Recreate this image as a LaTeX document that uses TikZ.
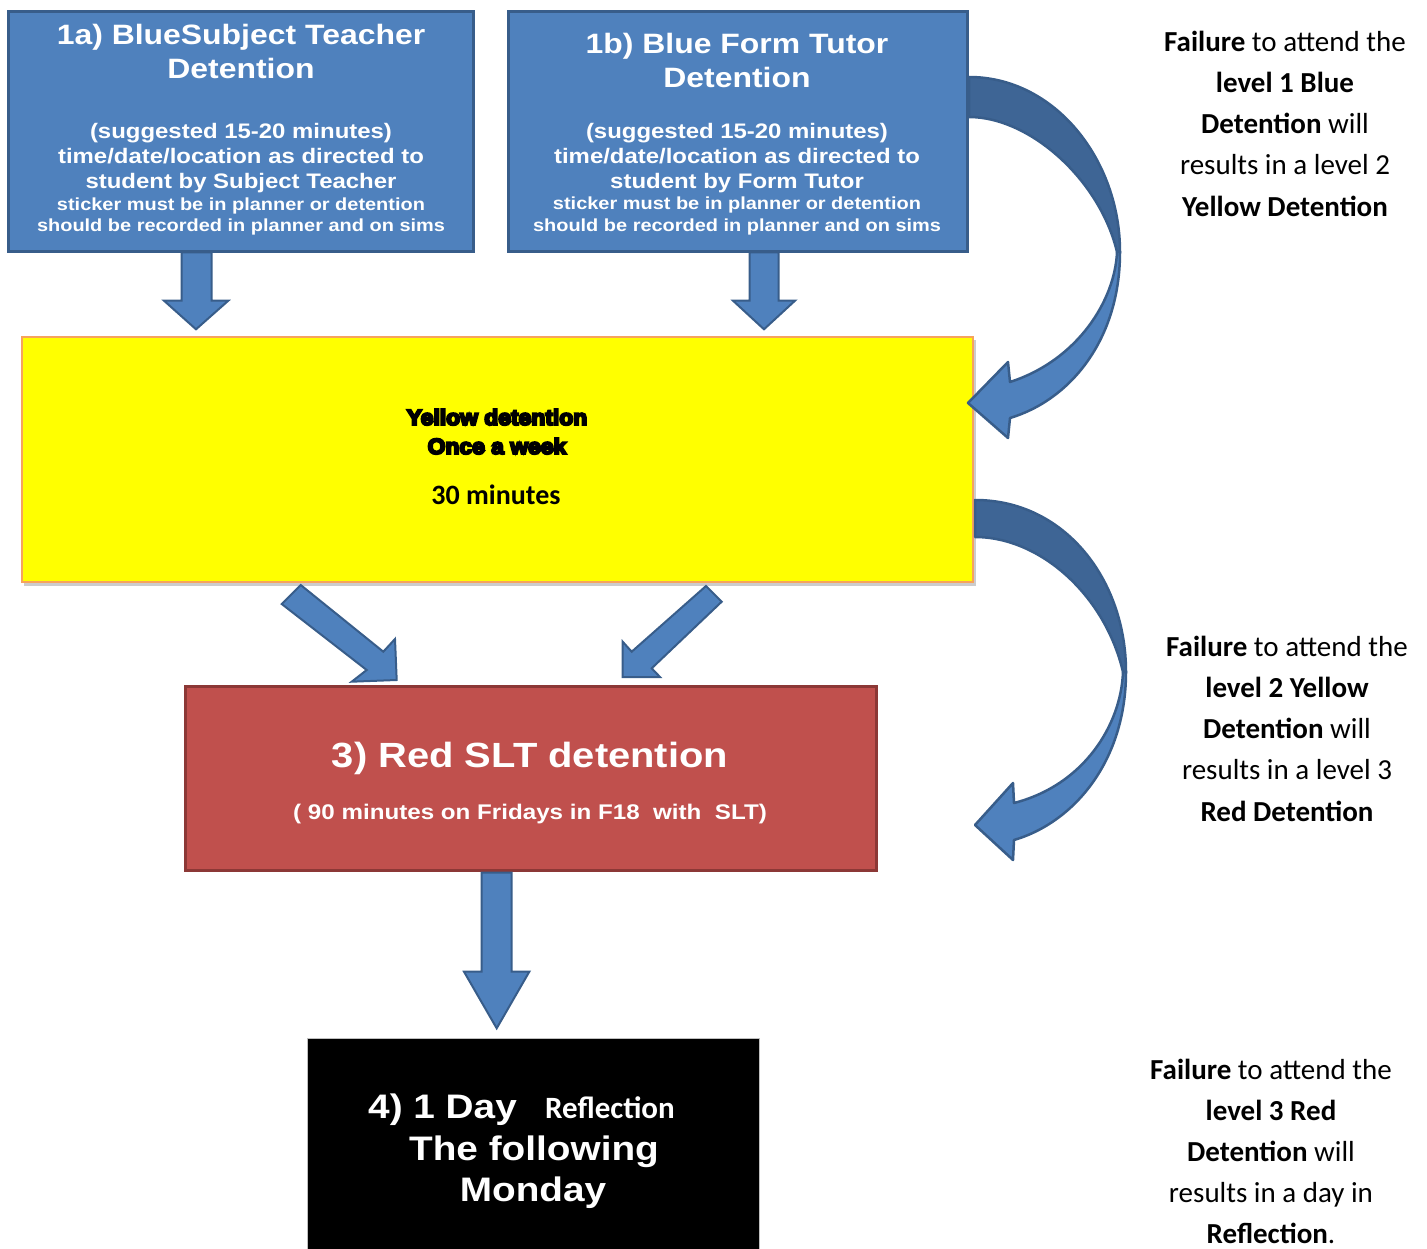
\documentclass[tikz,border=0pt]{standalone}
\usepackage{fontspec}
\usepackage{graphicx}
\setmainfont{Liberation Sans}
\newfontfamily\calib{Carlito}
\newfontfamily\heavy{Liberation Sans Bold}[FakeBold=9]
\newcommand\hsx[1]{\scalebox{1.14}[1]{#1}}
\definecolor{bluefill}{HTML}{4F81BD}
\definecolor{bluebd}{HTML}{385D8A}
\definecolor{bluedark}{HTML}{3E6595}
\definecolor{redfill}{HTML}{C0504D}
\definecolor{redbd}{HTML}{8C3836}
\definecolor{yelbd}{HTML}{F7A35C}
\definecolor{yelfill}{HTML}{FFFF00}
\tikzset{
  boxbase/.style={anchor=north west, inner sep=0pt, outer sep=0pt},
  bluebox/.style={boxbase, draw=bluebd, line width=3pt, fill=bluefill},
  yelbox/.style={boxbase, draw=yelbd, line width=1.5pt, fill=yelfill},
  redbox/.style={boxbase, draw=redbd, line width=3pt, fill=redfill},
  blkbox/.style={boxbase, draw=black!25, line width=1pt, fill=black},
  wtxt/.style={anchor=base, inner sep=0pt, text=white},
  btxt/.style={anchor=base, inner sep=0pt, text=black},
  blockarrow/.style={fill=bluefill, draw=bluebd, line width=2pt, line join=miter},
  curvelight/.style={fill=bluefill, draw=bluebd, line width=2.5pt, line join=round},
  curvedark/.style={fill=bluedark, draw=bluebd, line width=2.5pt, line join=round},
  ttl/.style={font=\fontsize{28}{28}\selectfont\bfseries},
  bdy/.style={font=\fontsize{21}{21}\selectfont\bfseries},
  sml/.style={font=\fontsize{17.5}{17.5}\selectfont\bfseries},
  side/.style={btxt, font=\calib\fontsize{29}{29}\selectfont},
}
\begin{document}
\begin{tikzpicture}[x=1pt,y=-1pt]
\useasboundingbox (0,0) rectangle (1427,1249);

% ---------- boxes ----------
\node[bluebox, minimum width=465, minimum height=240] (b1a) at (8.5,11.5) {};
\node[bluebox, minimum width=459, minimum height=240] (b1b) at (508.5,11.5) {};
\fill[black!20] (24,340) rectangle (976,585.5);
\node[yelbox, minimum width=951, minimum height=245] (yel) at (22,337) {};
\node[redbox, minimum width=691, minimum height=184] (red) at (185.5,686.5) {};
\node[blkbox, minimum width=452, minimum height=240] (blk) at (307,1038.5) {};

% ---------- straight block arrows ----------
\draw[blockarrow] (181.7,252.5) -- (181.7,300.7) -- (164,300.7) -- (196,329.3) -- (228.3,300.7) -- (211.7,300.7) -- (211.7,252.5) -- cycle;
\draw[blockarrow] (749.5,252.5) -- (749.5,300.7) -- (733,300.7) -- (764,329.3) -- (795,300.7) -- (778.5,300.7) -- (778.5,252.5) -- cycle;
\draw[blockarrow] (300.7,585) -- (383.3,651.7) -- (395,639) -- (396.7,680) -- (351.7,681.7) -- (366.7,670) -- (281.7,604) -- cycle;
\draw[blockarrow] (706,586) -- (721.7,601.7) -- (651.7,668.3) -- (660,677) -- (622.7,677) -- (622.7,641.7) -- (631.7,651.7) -- cycle;
\draw[blockarrow] (481.7,872.5) -- (481.7,971.7) -- (464,971.7) -- (496.7,1028.3) -- (529.3,971.7) -- (511.7,971.7) -- (511.7,872.5) -- cycle;

% ---------- curved arrow 1 (blue -> yellow) ----------
\draw[curvedark] (969,77) .. controls (1055,77) and (1120,160) .. (1120,252)
   -- (1117,252) .. controls (1100,180) and (1030,117) .. (969,117) -- cycle;
\draw[curvelight] (1120,252) .. controls (1120,340) and (1070,400) .. (1010,418)
   -- (1008,438) -- (968,403) -- (1008,362) -- (1010,382)
   .. controls (1078,360) and (1115,300) .. (1117,252) -- cycle;

% ---------- curved arrow 2 (yellow -> red) ----------
\draw[curvedark] (975,500) .. controls (1065,500) and (1126,580) .. (1126,672)
   -- (1123,672) .. controls (1105,595) and (1040,537) .. (975,537) -- cycle;
\draw[curvelight] (1126,672) .. controls (1126,760) and (1075,822) .. (1014,840)
   -- (1013,860) -- (975,825) -- (1013,783) -- (1014,803)
   .. controls (1084,785) and (1121,725) .. (1123,672) -- cycle;

% ---------- text: 1a ----------
\node[wtxt, ttl] (a1) at (241,45) {\hsx{1a) BlueSubject Teacher}};
\node[wtxt, ttl] (a2) at (241,79) {\hsx{Detention}};
\node[wtxt, bdy] (a3) at (241,138.3) {\hsx{(suggested 15-20 minutes)}};
\node[wtxt, bdy] (a4) at (241,163.3) {\hsx{time/date/location as directed to}};
\node[wtxt, bdy] (a5) at (241,188.3) {\hsx{student by Subject Teacher}};
\node[wtxt, sml] (a6) at (241,210.7) {\hsx{sticker must be in planner or detention}};
\node[wtxt, sml] (a7) at (241,231.7) {\hsx{should be recorded in planner and on sims}};

% ---------- text: 1b ----------
\node[wtxt, ttl] (c1) at (737,53.3) {\hsx{1b) Blue Form Tutor}};
\node[wtxt, ttl] (c2) at (737,87.3) {\hsx{Detention}};
\node[wtxt, bdy] (c3) at (737,138.3) {\hsx{(suggested 15-20 minutes)}};
\node[wtxt, bdy] (c4) at (737,163.3) {\hsx{time/date/location as directed to}};
\node[wtxt, bdy] (c5) at (737,188.3) {\hsx{student by Form Tutor}};
\node[wtxt, sml] (c6) at (737,210) {\hsx{sticker must be in planner or detention}};
\node[wtxt, sml] (c7) at (737,231.7) {\hsx{should be recorded in planner and on sims}};

% ---------- text: yellow ----------
\node[btxt, font=\heavy\fontsize{22}{22}\selectfont] (y1) at (497,425) {\scalebox{1.04}[1]{Yellow detention}};
\node[btxt, font=\heavy\fontsize{22}{22}\selectfont] (y2) at (497,454) {\scalebox{1.04}[1]{Once a week}};
\node[btxt, font=\calib\bfseries\fontsize{28}{28}\selectfont] (y3) at (496,504) {30 minutes};

% ---------- text: red ----------
\node[wtxt, font=\fontsize{35}{35}\selectfont\bfseries] (r1) at (530,767) {\hsx{3) Red SLT detention}};
\node[wtxt, font=\fontsize{21.2}{21.2}\selectfont\bfseries] (r2) at (530,819.3) {\hsx{( 90 minutes on Fridays in F18~~with~~SLT)}};

% ---------- text: black ----------
\node[wtxt, anchor=base west, font=\fontsize{34}{34}\selectfont\bfseries] (k1) at (368,1118.3) {\hsx{4) 1 Day}};
\node[wtxt, anchor=base west, font=\calib\bfseries\fontsize{31}{31}\selectfont] (k2) at (545,1118.3) {Reflection};
\node[wtxt, font=\fontsize{34}{34}\selectfont\bfseries] (k3) at (534,1160) {\hsx{The following}};
\node[wtxt, font=\fontsize{34}{34}\selectfont\bfseries] (k4) at (533,1201.7) {\hsx{Monday}};

% ---------- side texts ----------
\node[side] (s11) at (1285,52) {\textbf{Failure} to attend the};
\node[side] (s12) at (1285,93) {\textbf{level 1 Blue}};
\node[side] (s13) at (1285,134) {\textbf{Detention} will};
\node[side] (s14) at (1285,175) {results in a level 2};
\node[side] (s15) at (1285,217) {\textbf{Yellow Detention}};

\node[side] (s21) at (1287,656) {\textbf{Failure} to attend the};
\node[side] (s22) at (1287,697) {\textbf{level 2 Yellow}};
\node[side] (s23) at (1287,738) {\textbf{Detention} will};
\node[side] (s24) at (1287,779) {results in a level 3};
\node[side] (s25) at (1287,821) {\textbf{Red Detention}};

\node[side] (s31) at (1271,1079) {\textbf{Failure} to attend the};
\node[side] (s32) at (1271,1120) {\textbf{level 3 Red}};
\node[side] (s33) at (1271,1161) {\textbf{Detention} will};
\node[side] (s34) at (1271,1202) {results in a day in};
\node[side] (s35) at (1271,1243) {\textbf{Reflection}.};
\end{tikzpicture}
\end{document}
